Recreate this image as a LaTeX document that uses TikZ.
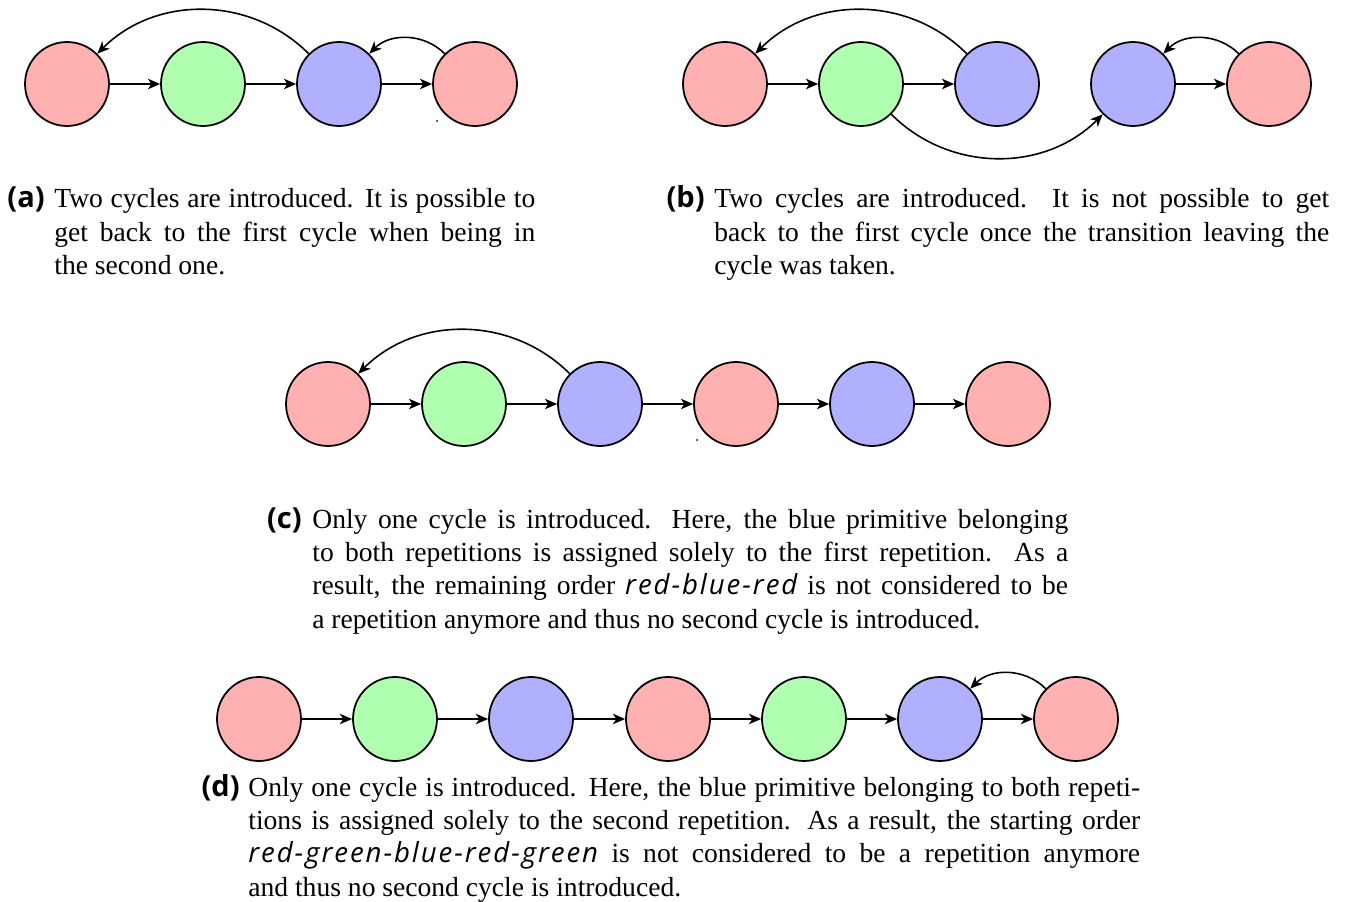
\documentclass[tikz,border=0pt]{standalone}
\usepackage{fontspec}
\setmainfont{Liberation Serif}
\newfontfamily\tagfamily{Open Sans}
\newfontfamily\seqfamily{Open Sans}[LetterSpace=7]
\usetikzlibrary{arrows.meta}
\definecolor{primRed}{RGB}{255,176,176}
\definecolor{primGreen}{RGB}{176,255,176}
\definecolor{primBlue}{RGB}{176,176,255}
\newcommand{\seqname}[1]{{\seqfamily\itshape #1}}

\begin{document}
\begin{tikzpicture}[%
	x=0.02cm, y=-0.02cm,
	>={Stealth[length=7pt,width=6pt,inset=2pt]},
	prim/.style={circle, draw, line width=1pt, minimum size=1.68cm, inner sep=0pt},
	edge/.style={->, line width=0.9pt},
	back/.style={->, line width=0.9pt, bend right=45},
	caption/.style={anchor=base west, inner sep=0pt, align=justify,
		font=\fontsize{15.7}{19}\selectfont,
		execute at begin node={\tolerance=9999}},
	tag/.style={anchor=base east, inner sep=0pt,
		font=\tagfamily\bfseries\fontsize{16.5}{19}\selectfont},
	]
	\useasboundingbox (0,0) rectangle (1346,902);
	
	% (a) primitives
	\foreach \name/\x/\col in {a1/67/primRed, a2/203/primGreen, a3/339/primBlue, a4/475/primRed}{
		\node[prim, fill=\col] (\name) at (\x,84) {};
	}
	% (b) primitives
	\foreach \name/\x/\col in {b1/725/primRed, b2/861/primGreen, b3/997/primBlue, b4/1133/primBlue, b5/1269/primRed}{
		\node[prim, fill=\col] (\name) at (\x,84) {};
	}
	% (c) primitives
	\foreach \name/\x/\col in {c1/328/primRed, c2/464/primGreen, c3/600/primBlue, c4/736/primRed, c5/872/primBlue, c6/1008/primRed}{
		\node[prim, fill=\col] (\name) at (\x,404) {};
	}
	% (d) primitives
	\foreach \name/\x/\col in {d1/259/primRed, d2/395/primGreen, d3/531/primBlue, d4/668/primRed, d5/804/primGreen, d6/940/primBlue, d7/1076/primRed}{
		\node[prim, fill=\col] (\name) at (\x,719) {};
	}
	
	% draw transitions
	\foreach \s/\t in {a1/a2, a2/a3, a3/a4, b1/b2, b2/b3, b4/b5, c1/c2, c2/c3, c3/c4, c4/c5, c5/c6, d1/d2, d2/d3, d3/d4, d4/d5, d5/d6, d6/d7}{
		\draw[edge] (\s) -- (\t);
	}
	
	% draw cycles
	\draw[back] (a3.135) to (a1.45);
	\draw[back] (a4.135) to (a3.45);
	\draw[back] (b3.135) to (b1.45);
	\draw[back] (b5.135) to (b4.45);
	\draw[edge] (b2.-45) to[bend right=45] (b4.-135);
	\draw[back] (c3.135) to (c1.45);
	\draw[back] (d7.135) to (d6.45);
	
	% stray dots
	\fill (437,121) circle (1);
	\fill (697,440) circle (1);
	
	% captions
	\node[tag] (taga) at (45,208) {(a)};
	\node[caption, text width=9.62cm] (capa) at (54,208) {Two cycles are introduced. It is possible to\linebreak get back to the first cycle when being in\linebreak the second one.};
	
	\node[tag] (tagb) at (705,208) {(b)};
	\node[caption, text width=12.3cm] (capb) at (714,208) {Two cycles are introduced. It is not possible to get\linebreak back to the first cycle once the transition leaving the\linebreak cycle was taken.};
	
	\node[tag] (tagc) at (302,528) {(c)};
	\node[caption, text width=15.12cm] (capc) at (312,528) {Only one cycle is introduced. Here, the blue primitive belonging\linebreak to both repetitions is assigned solely to the first repetition. As a\linebreak result, the remaining order \seqname{red-blue-red} is not considered to be\linebreak a repetition anymore and thus no second cycle is introduced.};
	
	\node[tag] (tagd) at (240,796) {(d)};
	\node[caption, text width=17.84cm] (capd) at (248,796) {Only one cycle is introduced. Here, the blue primitive belonging to both repeti-\linebreak tions is assigned solely to the second repetition. As a result, the starting order\linebreak \seqname{red-green-blue-red-green} is not considered to be a repetition anymore\linebreak and thus no second cycle is introduced.};
\end{tikzpicture}
\end{document}
